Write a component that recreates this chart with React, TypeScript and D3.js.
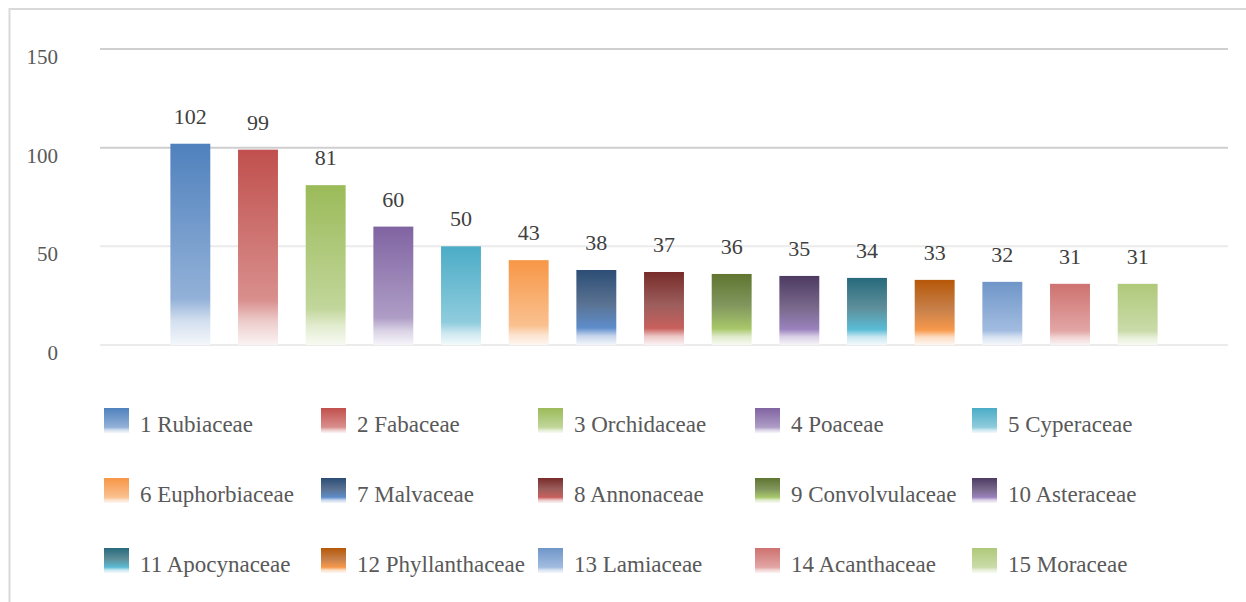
import React, { useRef, useEffect, FC } from "react";
import * as d3 from "d3";

// data
const families = [
  "Rubiaceae", "Fabaceae", "Orchidaceae", "Poaceae", "Cyperaceae",
  "Euphorbiaceae", "Malvaceae", "Annonaceae", "Convolvulaceae", "Asteraceae",
  "Apocynaceae", "Phyllanthaceae", "Lamiaceae", "Acanthaceae", "Moraceae",
];
const counts = [102, 99, 81, 60, 50, 43, 38, 37, 36, 35, 34, 33, 32, 31, 31];
const yTicks = [0, 50, 100, 150];

// gradient stops per bar: [offset, colour]
const palette: [number, string][][] = [
  [[0, "#4F81BD"], [0.77, "#93B1D8"], [0.88, "#D3DFEF"], [1, "#F4F7FB"]],
  [[0, "#C0504D"], [0.77, "#D98F8D"], [0.88, "#EDCDCC"], [1, "#FBF3F3"]],
  [[0, "#9BBB59"], [0.77, "#C1D69A"], [0.88, "#E2ECCF"], [1, "#F8FAF3"]],
  [[0, "#8064A2"], [0.77, "#AE9DC6"], [0.88, "#DAD2E5"], [1, "#F7F5FA"]],
  [[0, "#4BACC6"], [0.77, "#8FCCDD"], [0.88, "#CDE8F0"], [1, "#F3FAFC"]],
  [[0, "#F79646"], [0.77, "#FAC190"], [0.88, "#FCE2CD"], [1, "#FEF7F1"]],
  [[0, "#2C4D75"], [0.45, "#5A7292"], [0.77, "#5E8DCB"], [0.88, "#C6D5EC"], [1, "#F4F7FB"]],
  [[0, "#772C2A"], [0.45, "#9C5E5C"], [0.77, "#C8605D"], [0.88, "#EBC6C5"], [1, "#FBF3F3"]],
  [[0, "#5F7530"], [0.45, "#82975E"], [0.77, "#A8C86A"], [0.88, "#DFEACB"], [1, "#F8FAF3"]],
  [[0, "#4D3B62"], [0.45, "#78688A"], [0.77, "#9A82BD"], [0.88, "#D9D0E6"], [1, "#F7F5FA"]],
  [[0, "#276A7C"], [0.45, "#5E8F9A"], [0.77, "#5BBCD6"], [0.88, "#C8E7F0"], [1, "#F3FAFC"]],
  [[0, "#B65708"], [0.45, "#C7804A"], [0.77, "#F7994C"], [0.88, "#FCDDC4"], [1, "#FEF7F1"]],
  [[0, "#6F96C8"], [0.77, "#A2BCE0"], [0.88, "#D8E3F2"], [1, "#F4F7FB"]],
  [[0, "#CD7270"], [0.77, "#E2A6A5"], [0.88, "#F1D6D5"], [1, "#FBF3F3"]],
  [[0, "#AFC97A"], [0.77, "#CADBA9"], [0.88, "#E7EFD8"], [1, "#F8FAF3"]],
];

const FONT = "'Liberation Serif', 'DejaVu Serif', serif";

const App: FC = () => {
  const chartRef = useRef(null);

  useEffect(() => {
    const root = d3.select(chartRef.current);
    root.select("svg").remove();

    const width = 1246;
    const height = 602;

    const svg = root
      .append("svg")
      .attr("width", width)
      .attr("height", height)
      .style("position", "absolute")
      .style("left", "0px")
      .style("top", "0px")
      .style("background", "#fff");

    // chart frame (runs off the right and bottom edges)
    svg
      .append("rect")
      .attr("x", 9.5)
      .attr("y", 9)
      .attr("width", width)
      .attr("height", height)
      .attr("fill", "none")
      .attr("stroke", "#D9D9D9")
      .attr("stroke-width", 2);

    const defs = svg.append("defs");
    palette.forEach((stops, i) => {
      const g = defs
        .append("linearGradient")
        .attr("id", `grad${i}`)
        .attr("x1", 0)
        .attr("y1", 0)
        .attr("x2", 0)
        .attr("y2", 1);
      stops.forEach(([o, c]) => {
        g.append("stop").attr("offset", o).attr("stop-color", c);
      });
    });

    const plotLeft = 100;
    const plotRight = 1228;

    const yScale = d3.scaleLinear().domain([0, 150]).range([345, 49]);
    const xScale = d3
      .scaleBand()
      .domain(families)
      .range([plotLeft, plotRight])
      .paddingInner(0.41)
      .paddingOuter(1.04);

    // gridlines
    svg
      .append("g")
      .selectAll("line")
      .data(yTicks)
      .enter()
      .append("line")
      .attr("x1", plotLeft)
      .attr("x2", plotRight)
      .attr("y1", (d) => yScale(d))
      .attr("y2", (d) => yScale(d))
      .attr("stroke", (d) => (d >= 100 ? "#CFCFCF" : "#EBEBEB"))
      .attr("stroke-width", 2);

    // y axis labels
    svg
      .append("g")
      .selectAll("text")
      .data(yTicks)
      .enter()
      .append("text")
      .attr("x", 58)
      .attr("y", (d) => yScale(d) + 8)
      .attr("dominant-baseline", "central")
      .attr("text-anchor", "end")
      .attr("font-family", FONT)
      .attr("font-size", 21)
      .attr("fill", "#595959")
      .text((d) => d);

    // bars
    svg
      .append("g")
      .selectAll("rect")
      .data(counts)
      .enter()
      .append("rect")
      .attr("x", (d, i) => xScale(families[i])!)
      .attr("y", (d) => yScale(d))
      .attr("width", xScale.bandwidth())
      .attr("height", (d) => yScale(0) - yScale(d))
      .attr("fill", (d, i) => `url(#grad${i})`);

    // data labels
    svg
      .append("g")
      .selectAll("text")
      .data(counts)
      .enter()
      .append("text")
      .attr("x", (d, i) => xScale(families[i])! + xScale.bandwidth() / 2)
      .attr("y", (d) => yScale(d) - 20)
      .attr("text-anchor", "middle")
      .attr("font-family", FONT)
      .attr("font-size", 22)
      .attr("fill", "#404040")
      .text((d) => d);

    // legend: 5 columns x 3 rows
    const legend = svg
      .append("g")
      .selectAll("g")
      .data(families)
      .enter()
      .append("g")
      .attr("transform", (d, i) => `translate(${104 + (i % 5) * 217}, ${408 + Math.floor(i / 5) * 70})`);

    legend
      .append("rect")
      .attr("width", 25)
      .attr("height", 25)
      .attr("fill", (d, i) => `url(#grad${i})`);

    legend
      .append("text")
      .attr("x", 36)
      .attr("y", 24)
      .attr("font-family", FONT)
      .attr("font-size", 23)
      .attr("fill", "#595959")
      .text((d, i) => `${i + 1} ${d}`);
  }, []);

  return <div ref={chartRef} />;
};

export default App;
